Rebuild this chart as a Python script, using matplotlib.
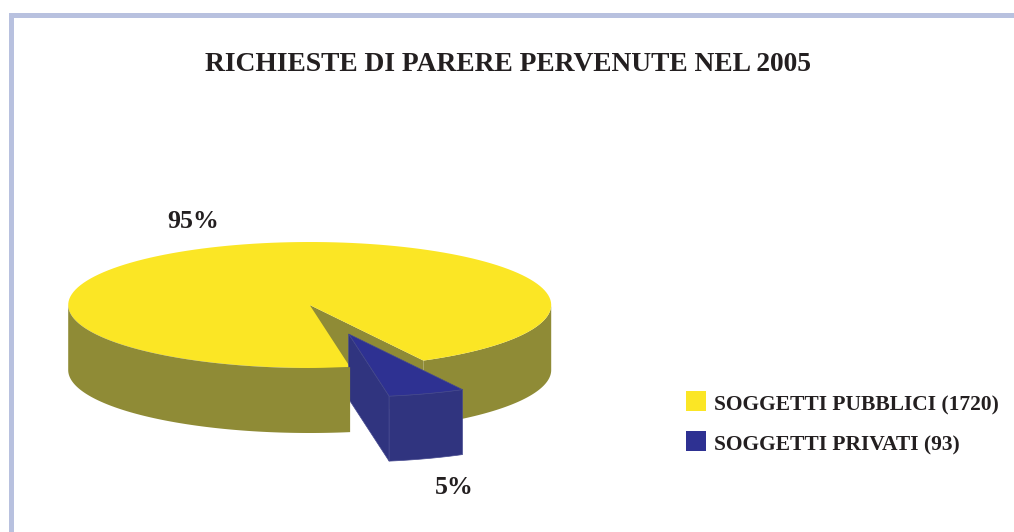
import numpy as np
import matplotlib
matplotlib.use("Agg")
import matplotlib.pyplot as plt
from matplotlib.patches import Polygon, Rectangle

title = "RICHIESTE DI PARERE PERVENUTE NEL 2005"
categories = ["SOGGETTI PUBBLICI", "SOGGETTI PRIVATI"]
values = [1720, 93]
pct_labels = ["95%", "5%"]

YELLOW, OLIVE = "#FBE625", "#8F8B36"
BLUE, BLUE_DK, BLUE_EDGE = "#2E3192", "#30347F", "#45498F"
FRAME = "#B8C1DF"
TEXT = "#231F20"

fig = plt.figure(figsize=(10.14, 5.32), dpi=100, facecolor="white")
ax = fig.add_axes([0, 0, 1, 1])
ax.set_xlim(0, 1014)
ax.set_ylim(532, 0)
ax.axis("off")

font = dict(family=["Liberation Serif", "DejaVu Serif"], weight="bold", color=TEXT)

# frame
ax.add_patch(Rectangle((8.5, 12.7), 1005.5, 5.2, fc=FRAME, ec="none"))
ax.add_patch(Rectangle((8.5, 12.7), 5.5, 519.3, fc=FRAME, ec="none"))

# pie geometry
cx, cy, rx, ry, depth = 309.7, 305.0, 241.5, 63.0, 65.0
explode = (39.0, 29.0)
start = -61.9
sweeps = np.array(values) / sum(values) * 360.0


def arc(a0, a1, ox=0.0, oy=0.0, n=160):
    t = np.radians(np.linspace(a0, a1, n))
    return np.column_stack([cx + ox + rx * np.cos(t), cy + oy - ry * np.sin(t)])


a0, a1 = start, start + sweeps[0]
b0, b1 = a1, a1 + sweeps[1]


def rim(s, e, ox=0.0, oy=0.0, **kw):
    top = arc(s, e, ox, oy)
    bottom = top[::-1] + [0, depth]
    ax.add_patch(Polygon(np.vstack([top, bottom]), closed=True, **kw))


# yellow slice: outer rim where it faces the viewer
rim(a0, 0, fc=OLIVE, ec="none", zorder=2)
rim(180, a1, fc=OLIVE, ec="none", zorder=7)
# inner cut wall seen through the gap
edge = arc(a0, a0, n=1)[0]
ax.add_patch(Polygon([(cx, cy), edge, edge + [0, depth], (cx, cy + depth)],
                     closed=True, fc=OLIVE, ec="none", zorder=2))
# yellow top
ax.add_patch(Polygon(np.vstack([[(cx, cy)], arc(a0, a1)]), closed=True,
                     fc=YELLOW, ec="none", zorder=3))

# exploded blue slice
ox, oy = explode
apex = np.array([cx + ox, cy + oy])
left = arc(b0, b0, ox, oy, n=1)[0]
ax.add_patch(Polygon([apex, left, left + [0, depth], apex + [0, depth]], closed=True,
                     fc=BLUE_DK, ec=BLUE_EDGE, lw=0.5, zorder=4))
rim(b0, b1, ox, oy, fc=BLUE_DK, ec=BLUE_EDGE, lw=0.5, zorder=5)
ax.add_patch(Polygon(np.vstack([[apex], arc(b0, b1, ox, oy)]), closed=True,
                     fc=BLUE, ec=BLUE_EDGE, lw=0.5, zorder=6))

# texts
ax.text(508, 64.5, title, ha="center", va="center", fontsize=19.85, **font)
ax.text(193.5, 222, pct_labels[0], ha="center", va="center", fontsize=18.6, **font)
ax.text(454, 488, pct_labels[1], ha="center", va="center", fontsize=18.6, **font)

# legend
for i, (name, val, col) in enumerate(zip(categories, values, [YELLOW, BLUE])):
    y = 391 + 40 * i
    ax.add_patch(Rectangle((686, y), 20, 20, fc=col, ec="none"))
    ax.text(714, y + 14.5, f"{name} ({val})", ha="left", va="center", fontsize=15.45, **font)

fig.savefig("out.png", dpi=100, facecolor="white")
